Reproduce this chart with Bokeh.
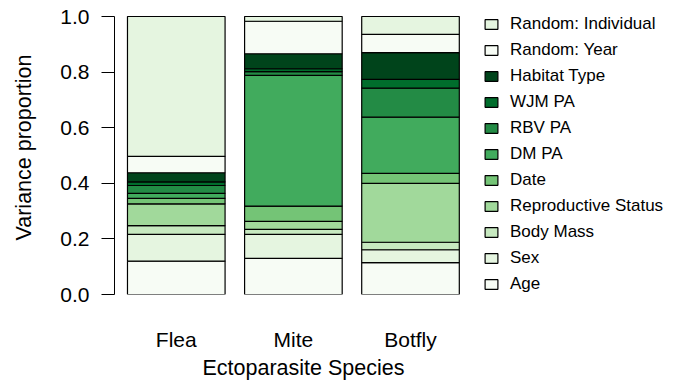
from bokeh.plotting import figure
from bokeh.models import Legend, LegendItem, FixedTicker, ColumnDataSource, Range1d, Title
from bokeh.embed import file_html
from bokeh.resources import INLINE

species = ["Flea", "Mite", "Botfly"]
components = ["Age", "Sex", "Body Mass", "Reproductive Status", "Date", "DM PA",
              "RBV PA", "WJM PA", "Habitat Type", "Random: Year", "Random: Individual"]
flea = [0.120, 0.096, 0.032, 0.078, 0.020, 0.018, 0.028, 0.013, 0.033, 0.059, 0.503]
mite = [0.130, 0.086, 0.018, 0.029, 0.055, 0.470, 0.014, 0.010, 0.054, 0.117, 0.017]
botfly = [0.115, 0.046, 0.027, 0.212, 0.036, 0.202, 0.104, 0.032, 0.096, 0.066, 0.064]
colors = ["#F7FCF5", "#E5F5E0", "#C7E9C0", "#A1D99B", "#74C476", "#41AB5D",
          "#238B45", "#006D2C", "#00441B", "#F7FCF5", "#E5F5E0"]
y_ticks = [0.0, 0.2, 0.4, 0.6, 0.8, 1.0]
x_centers = [0.7, 1.9, 3.1]

FONT = "Liberation Sans"

data = {"x": x_centers}
keys = []
for i, c in enumerate(components):
    k = f"c{i}"
    keys.append(k)
    data[k] = [flea[i], mite[i], botfly[i]]
src = ColumnDataSource(data)

# frame spans the canvas top so the legend is not clipped; axis bounded to 0..1
p = figure(width=675, height=388, output_backend="svg", toolbar_location=None,
           x_range=Range1d(0.067, 5.764), y_range=Range1d(0, 294 / 278),
           min_border_left=114, min_border_right=5, min_border_top=0,
           min_border_bottom=94)

rs = p.vbar_stack(keys, x="x", width=1.0, source=src, color=colors,
                  line_color="black", line_width=1.2)

items = [LegendItem(label=components[i], renderers=[rs[i]]) for i in range(len(components))][::-1]
legend = Legend(items=items, location=(369, 0), padding=0, margin=0,
                border_line_color=None, background_fill_alpha=0,
                glyph_width=16, glyph_height=12, label_standoff=11,
                label_height=16, spacing=6,
                label_text_font=FONT, label_text_font_size="17px",
                label_text_color="black")
p.add_layout(legend, "center")

p.grid.visible = False
p.outline_line_color = None
p.background_fill_color = "white"

# y axis
p.yaxis.bounds = (y_ticks[0], y_ticks[-1])
p.yaxis.ticker = FixedTicker(ticks=y_ticks)
p.yaxis.major_label_overrides = {t: f"{t:.1f}" for t in y_ticks}
p.yaxis.axis_label = "Variance proportion"
p.yaxis.axis_label_text_font = FONT
p.yaxis.axis_label_text_font_size = "21.5px"
p.yaxis.axis_label_text_font_style = "normal"
p.yaxis.axis_label_standoff = 21
p.yaxis.major_label_text_font = FONT
p.yaxis.major_label_text_font_size = "21px"
p.yaxis.major_label_standoff = 12
p.yaxis.major_tick_out = 13
p.yaxis.major_tick_in = 0
p.yaxis.minor_tick_out = 0
p.yaxis.minor_tick_in = 0
p.yaxis.axis_line_color = "black"
p.yaxis.major_tick_line_color = "black"
p.yaxis.major_label_text_color = "black"
p.yaxis.axis_label_text_color = "black"

# x axis
p.xaxis.ticker = FixedTicker(ticks=x_centers)
p.xaxis.major_label_overrides = {x: s for x, s in zip(x_centers, species)}
p.xaxis.major_label_text_font = FONT
p.xaxis.major_label_text_font_size = "21px"
p.xaxis.major_label_text_line_height = 1.0
p.xaxis.major_label_standoff = 33
p.xaxis.major_tick_out = 0
p.xaxis.major_tick_in = 0
p.xaxis.minor_tick_out = 0
p.xaxis.minor_tick_in = 0
p.xaxis.axis_line_color = None
p.xaxis.major_label_text_color = "black"

xtitle = Title(text="Ectoparasite Species", align="left", offset=88, standoff=0,
               text_font=FONT, text_font_size="21.5px", text_font_style="normal",
               text_line_height=1.35, text_color="black")
p.add_layout(xtitle, "below")

open("out.html", "w").write(file_html(p, INLINE))
